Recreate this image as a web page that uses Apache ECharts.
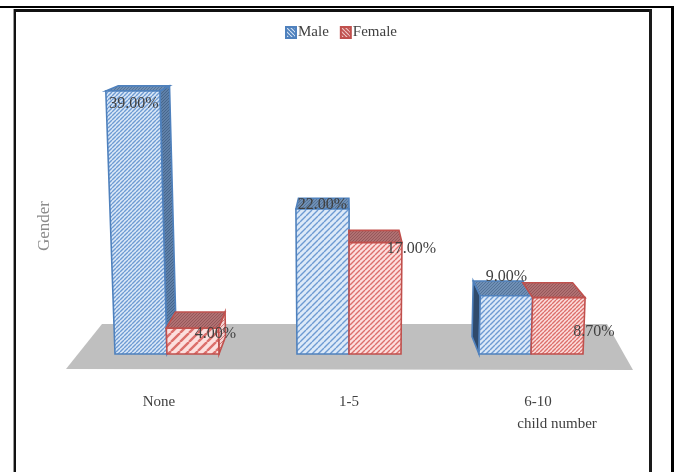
<!DOCTYPE html>
<html>
<head>
<meta charset="utf-8">
<style>html,body{margin:0;padding:0;background:#fff}#chart{width:675px;height:472px}</style>
<script src="https://cdn.jsdelivr.net/npm/echarts@6/dist/echarts.min.js"></script>
</head>
<body>
<div id="chart"></div>
<script>
// Child-count categories and the share for each gender, in percent
var categories = ['None', '1-5', '6-10'];
var maleValues = [39, 22, 9];
var femaleValues = [4, 17, 8.7];
var seriesNames = ['Male', 'Female'];

// Where each value label sits relative to the top centre of its bar
var maleLabelNudge = [[1, 13], [0, -4], [0, -19]];
var femaleLabelNudge = [[23, 6], [36, 6], [35, 34]];
// Hatch spacing per bar
var maleHatch = [4, 6, 5];
var femaleHatch = [9, 5, 4];

var SERIF = '"Liberation Serif", "Times New Roman", serif';
var TEXT = '#404040';
var BAR_WIDTH = 52;

function hatch(size, bg, stripe, width, flip) {
  var c = document.createElement('canvas');
  c.width = c.height = size;
  var g = c.getContext('2d');
  g.fillStyle = bg;
  g.fillRect(0, 0, size, size);
  g.strokeStyle = stripe;
  g.lineWidth = width;
  g.beginPath();
  [-size, 0, size].forEach(function (o) {
    if (flip) { g.moveTo(o, 0); g.lineTo(o + size, size); }
    else { g.moveTo(o, size); g.lineTo(o + size, 0); }
  });
  g.stroke();
  return { image: c, repeat: 'repeat' };
}

var palette = [
  { edge: '#4f81bd', bg: '#dce9f8', stripe: '#6d9ad2', top: hatch(3, '#6f8fb5', '#547499', 1), side: hatch(3, '#5f80a8', '#46668c', 1), sideDark: '#2f4a6b', icon: hatch(4, '#4f81bd', '#d5e3f3', 1.1, true) },
  { edge: '#c0504d', bg: '#fcdfde', stripe: '#dc6f6b', top: hatch(3, '#b07072', '#95585a', 1), side: hatch(4, '#f3d3d2', '#cf7472', 1), sideDark: '#f3d3d2', icon: hatch(4, '#c0504d', '#f3d5d4', 1.1, true) }
];

// Simple camera: tall bars flare away from the centre line, and the top
// face narrows as its height approaches eye level.
var CENTER_X = 345;
function flare(pt, base) {
  var h = base - pt[1];
  var sx = 1 + h * 0.00016;
  var sy = 1 + h * 0.000215;
  return [CENTER_X + (pt[0] - CENTER_X) * sx, base - h * sy];
}
function toBack(p, base) {
  var dy = 17.5 - 0.047 * (base - p[1]);
  return [p[0] - (p[0] - CENTER_X) * 0.052, p[1] - dy];
}

function barRenderer(seriesIndex, nudges, hatches) {
  return function (params, api) {
    var cat = api.value(0);
    var value = api.value(1);
    var basePt = api.coord([cat, 0]);
    var topPt = api.coord([cat, value]);
    var base = basePt[1];
    var xc = basePt[0] + (seriesIndex === 0 ? -BAR_WIDTH / 2 : BAR_WIDTH / 2);
    var xl = xc - BAR_WIDTH / 2, xr = xc + BAR_WIDTH / 2;
    var p = palette[seriesIndex];

    var fbl = [xl, base], fbr = [xr, base];
    var ftl = flare([xl, topPt[1]], base), ftr = flare([xr, topPt[1]], base);
    var btl = toBack(ftl, base), btr = toBack(ftr, base);
    var bbl = toBack(fbl, base), bbr = toBack(fbr, base);

    var kids = [];
    function face(points, fill) {
      kids.push({
        type: 'polygon',
        shape: { points: points },
        style: { fill: fill, stroke: p.edge, lineWidth: 1.6 }
      });
    }
    if (bbr[0] > fbr[0] + 1) face([ftr, btr, bbr, fbr], p.side);
    if (seriesIndex === 0 && bbl[0] < fbl[0] - 1) face([ftl, btl, bbl, fbl], p.sideDark);
    face([ftl, btl, btr, ftr], p.top);
    face([ftl, ftr, fbr, fbl], hatch(hatches[cat], p.bg, p.stripe, hatches[cat] > 6 ? 2.4 : 1.4));

    var n = nudges[cat];
    kids.push({
      type: 'text',
      z2: 50,
      style: {
        text: value.toFixed(2) + '%',
        x: (ftl[0] + ftr[0]) / 2 + n[0],
        y: ftl[1] + n[1],
        align: 'center',
        verticalAlign: 'middle',
        fill: TEXT,
        font: '16px ' + SERIF
      }
    });
    return { type: 'group', children: kids };
  };
}

function floorRenderer(params, api) {
  var cs = params.coordSys;
  var y = cs.y + cs.height;
  var x0 = cs.x, x1 = cs.x + cs.width;
  return {
    type: 'polygon',
    shape: { points: [[x0 + 26, y - 30], [x1 - 15, y - 30], [x1 + 11, y + 16], [x0 - 10, y + 15]] },
    style: { fill: '#bfbfbf' }
  };
}

function toRows(values) {
  return values.map(function (v, i) { return [i, v]; });
}

// Double rule around the figure; the lower edge stays open
function rule(x, y, w, h, fill) {
  return { type: 'rect', shape: { x: x, y: y, width: w, height: h }, style: { fill: fill }, silent: true };
}

var chart = echarts.init(document.getElementById('chart'), null, { renderer: 'canvas' });
chart.setOption({
  animation: false,
  backgroundColor: '#ffffff',
  textStyle: { fontFamily: SERIF },
  grid: { left: 76, right: 53, top: 98, bottom: 118 },
  legend: {
    data: seriesNames,
    left: 280,
    top: 20,
    icon: 'rect',
    itemWidth: 10,
    itemHeight: 11,
    itemGap: 11,
    textStyle: { fontFamily: SERIF, fontSize: 15, color: TEXT, padding: [0, 0, 0, -3] }
  },
  xAxis: {
    type: 'category',
    data: [
      { value: categories[0], textStyle: { padding: [0, 16, 0, 0] } },
      { value: categories[1] },
      { value: categories[2], textStyle: { padding: [0, 0, 0, 14] } }
    ],
    axisLine: { show: false },
    axisTick: { show: false },
    axisLabel: { margin: 41, fontFamily: SERIF, fontSize: 15, color: TEXT },
    name: 'child number',
    nameLocation: 'end',
    nameGap: -65,
    nameTextStyle: { fontFamily: SERIF, fontSize: 15, color: TEXT, align: 'center', verticalAlign: 'top', padding: [63, 0, 0, 0] }
  },
  yAxis: {
    type: 'value',
    min: 0,
    max: 40,
    axisLine: { show: false },
    axisTick: { show: false },
    axisLabel: { show: false },
    splitLine: { show: false },
    name: 'Gender',
    nameLocation: 'middle',
    nameRotate: 90,
    nameGap: 23,
    nameTextStyle: { fontFamily: SERIF, fontSize: 17, color: '#8c8c8c', padding: [0, 0, 0, 0] }
  },
  graphic: [
    rule(0, 6, 674, 2, '#000'),
    rule(671, 6, 3, 466, '#000'),
    rule(14, 9, 638, 3, '#111'),
    rule(13, 9, 1, 463, '#999'),
    rule(14, 9, 2, 463, '#111'),
    rule(649, 9, 3, 463, '#1a1a1a')
  ],
  series: [
    { type: 'custom', name: 'floor', coordinateSystem: 'cartesian2d', silent: true, z: 1, clip: false, data: [[0, 0]], renderItem: floorRenderer },
    {
      type: 'custom', name: seriesNames[0], coordinateSystem: 'cartesian2d', z: 2, clip: false,
      itemStyle: { color: palette[0].icon, borderColor: palette[0].edge, borderWidth: 1 },
      encode: { x: 0, y: 1 }, data: toRows(maleValues),
      renderItem: barRenderer(0, maleLabelNudge, maleHatch)
    },
    {
      type: 'custom', name: seriesNames[1], coordinateSystem: 'cartesian2d', z: 3, clip: false,
      itemStyle: { color: palette[1].icon, borderColor: palette[1].edge, borderWidth: 1 },
      encode: { x: 0, y: 1 }, data: toRows(femaleValues),
      renderItem: barRenderer(1, femaleLabelNudge, femaleHatch)
    }
  ]
});
</script>
</body>
</html>
